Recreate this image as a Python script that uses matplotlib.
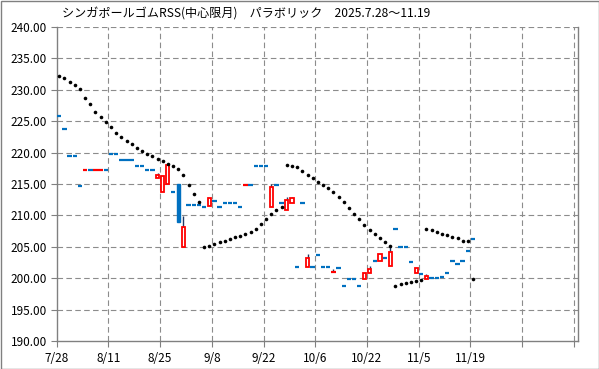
import matplotlib
matplotlib.use("Agg")
import matplotlib.pyplot as plt
from matplotlib.patches import Rectangle
import numpy as np

plt.rcParams['font.family'] = ['Noto Sans CJK JP', 'DejaVu Sans']

title = "シンガポールゴムRSS(中心限月)　パラボリック　2025.7.28～11.19"
tick_labels = ["7/28", "8/11", "8/25", "9/8", "9/22", "10/6", "10/22", "11/5", "11/19", "", ""]

# OHLC per trading day (index 0 = 7/28)
opens = [225.9, 223.8, 219.5, 219.5, 214.7, 217.3, 217.3, 217.3, 217.3, 217.3,
         219.8, 219.8, 218.9, 218.9, 218.9, 217.9, 217.9, 217.3, 217.3, 215.9,
         213.8, 215.0, 213.8, 215.0, 204.9, 211.7, 211.7, 211.7, 211.4, 211.5,
         212.3, 211.4, 211.9, 211.9, 211.9, 211.4, 214.9, 214.9, 217.9, 217.9,
         217.9, 211.4, 214.9, 211.9, 210.8, 211.9, 201.8, 211.9, 201.8, 201.8,
         203.7, 201.8, 201.8, 201.0, 201.7, 198.8, 199.8, 199.8, 198.8, 199.8,
         200.9, 202.8, 202.8, 203.2, 201.9, 207.8, 205.0, 205.0, 202.6, 200.9,
         200.7, 199.8, 200.0, 200.0, 200.2, 200.8, 202.8, 202.3, 202.8, 204.4,
         206.2]
closes = [225.9, 223.8, 219.5, 219.5, 214.7, 217.3, 217.3, 217.3, 217.3, 217.3,
          219.8, 219.8, 218.9, 218.9, 218.9, 217.9, 217.9, 217.3, 217.3, 216.4,
          216.3, 218.0, 213.8, 208.9, 208.1, 211.7, 211.7, 211.7, 211.4, 212.8,
          212.3, 211.4, 211.9, 211.9, 211.9, 211.4, 214.9, 214.9, 217.9, 217.9,
          217.9, 214.5, 214.9, 211.9, 212.4, 212.7, 201.8, 211.9, 203.2, 201.8,
          203.7, 201.8, 201.8, 201.0, 201.7, 198.8, 199.8, 199.8, 198.8, 200.9,
          201.4, 202.8, 203.8, 203.2, 204.1, 207.8, 205.0, 205.0, 202.6, 201.7,
          200.7, 200.4, 200.0, 200.0, 200.2, 200.8, 202.8, 202.3, 202.8, 204.4,
          206.2]
highs = [225.9, 223.8, 219.5, 219.5, 214.7, 217.3, 217.3, 217.3, 217.3, 217.3,
         219.8, 219.8, 218.9, 218.9, 218.9, 217.9, 217.9, 217.3, 217.3, 216.8,
         216.3, 218.0, 213.8, 215.0, 209.9, 211.7, 211.7, 211.7, 211.4, 212.8,
         212.3, 211.4, 211.9, 211.9, 211.9, 211.4, 214.9, 214.9, 217.9, 217.9,
         217.9, 215.0, 214.9, 211.9, 212.9, 212.9, 201.8, 211.9, 203.8, 201.8,
         203.7, 201.8, 201.8, 201.4, 201.7, 198.8, 199.8, 199.8, 198.8, 200.9,
         201.9, 202.8, 203.8, 203.2, 205.0, 207.8, 205.0, 205.0, 202.6, 201.7,
         200.7, 200.6, 200.0, 200.0, 200.2, 200.8, 202.8, 202.3, 202.8, 204.4,
         206.2]
lows = [min(o, c) for o, c in zip(opens, closes)]
# flat-day marks drawn in red (others blue)
red_flat = [5, 7, 8, 36, 53]

# Parabolic SAR
sar = [232.2, 231.8, 231.3, 230.7, 230.1, 228.7, 227.7, 226.5, 225.6, 224.8,
       224.0, 223.2, 222.5, 221.9, 221.4, 220.8, 220.3, 219.8, 219.5, 219.0,
       218.7, 218.2, 217.8, 217.4, 216.4, 214.8, 213.4, 212.2,
       204.9, 205.1, 205.5, 205.8, 206.0, 206.2, 206.5, 206.7, 207.0, 207.4,
       207.9, 208.6, 209.4, 210.2, 210.8, 211.3,
       218.0, 217.9, 217.7, 217.0, 216.5, 215.9, 215.3, 214.8, 214.3, 213.8,
       213.0, 212.2, 211.1, 210.2, 209.4, 208.4, 207.6, 207.0, 206.4, 205.8,
       205.2,
       198.8, 199.0, 199.2, 199.4, 199.6, 199.7,
       207.9, 207.7, 207.4, 207.1, 206.8, 206.6, 206.4, 206.0, 205.9,
       199.8]

BLUE = '#0070C0'
RED = '#FF0000'
WICK = '#1F3864'
GRID = '#8C8C8C'

W, H = 599, 369
fig = plt.figure(figsize=(W / 100, H / 100), dpi=100)
l, r, t, b = 56.7, 578, 27, 341
ax = fig.add_axes([l / W, 1 - b / H, (r - l) / W, (b - t) / H])

n = len(opens)
xs = np.arange(n) + 0.5
body_w = 0.62
flat_w = 0.85
for i in range(n):
    o, c, h, lo = opens[i], closes[i], highs[i], lows[i]
    x = xs[i]
    if h > max(o, c) + 1e-9:
        ax.vlines(x, max(o, c), h, color=WICK, lw=1.0, zorder=2)
    if abs(o - c) < 1e-9:
        col = RED if i in red_flat else BLUE
        ax.hlines(o, x - flat_w / 2, x + flat_w / 2, color=col, lw=1.6, zorder=3)
    elif c > o:
        ax.add_patch(Rectangle((x - body_w / 2, o), body_w, c - o, facecolor='white',
                               edgecolor=RED, lw=1.3, zorder=3))
    else:
        ax.add_patch(Rectangle((x - body_w / 2, c), body_w, o - c, facecolor=BLUE,
                               edgecolor=BLUE, lw=1.0, zorder=3))

ax.plot(xs[:len(sar)], sar, linestyle='none', marker='o', color='black',
        markersize=2.6, markeredgewidth=0, zorder=4)

ax.set_xlim(0, 100.8)
ax.set_ylim(190, 240)
ax.set_yticks(np.arange(190, 240.1, 5))
ax.set_yticklabels([f"{v:.2f}" for v in np.arange(190, 240.1, 5)])
ax.set_xticks(np.arange(0, 101, 10))
ax.set_xticklabels(tick_labels)
ax.tick_params(axis='both', direction='out', colors='#808080', labelcolor='black',
               labelsize=8.5, length=4, width=0.8)
ax.tick_params(axis='x', pad=4)
ax.tick_params(axis='y', pad=3)

for yv in np.arange(195, 240.1, 5):
    ax.axhline(yv, color=GRID, lw=0.8, dashes=(5, 3), zorder=1)
for xv in np.arange(10, 101, 10):
    ax.axvline(xv, color=GRID, lw=0.8, dashes=(5, 3), zorder=1)

for s in ['left', 'bottom', 'right', 'top']:
    ax.spines[s].set_color('#808080')
    ax.spines[s].set_linewidth(1.0)
ax.spines['top'].set_visible(False)

fig.text(62 / W, 1 - 14 / H, title, fontsize=8.7, va='center', ha='left')

fig.patches.append(Rectangle((0.5 / W, 0.5 / H), (W - 1) / W, (H - 1) / H,
                             transform=fig.transFigure, fill=False,
                             edgecolor='#808080', lw=1.0))

fig.savefig('out.png', dpi=100)
